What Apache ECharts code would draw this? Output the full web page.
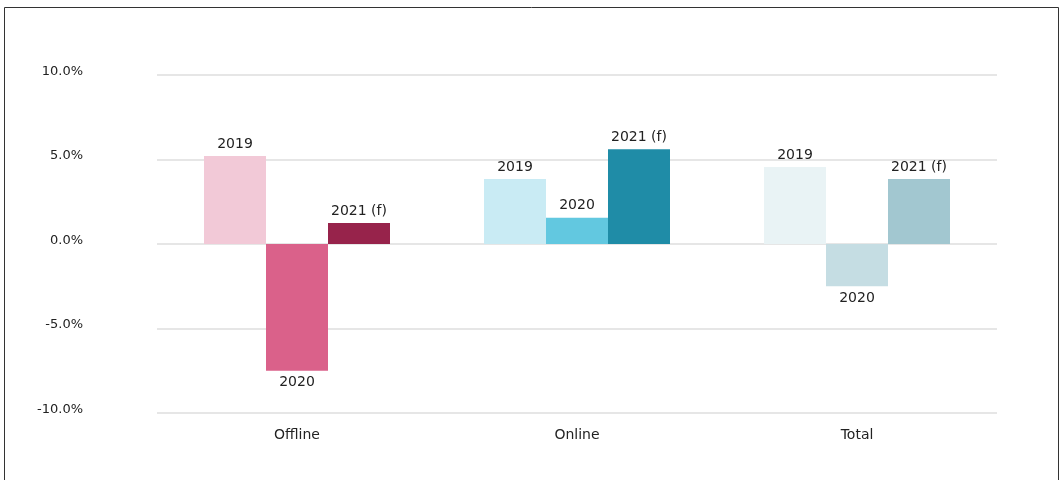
<!DOCTYPE html>
<html>
<head>
<meta charset="utf-8">
<script src="https://cdn.jsdelivr.net/npm/echarts@6/dist/echarts.min.js"></script>
<style>
html,body{margin:0;padding:0;background:#fff;}
#chart{width:1063px;height:480px;}
</style>
</head>
<body>
<div id="chart"></div>
<script>
const categories = ['Offline', 'Online', 'Total'];
const seriesNames = ['2019', '2020', '2021 (f)'];
const values2019 = [5.2, 3.85, 4.55];
const values2020 = [-7.5, 1.55, -2.5];
const values2021 = [1.25, 5.6, 3.85];
const colors2019 = ['#F2C9D7', '#C9EBF4', '#E9F3F5'];
const colors2020 = ['#DA618A', '#62C8E0', '#C5DDE3'];
const colors2021 = ['#97234B', '#1F8CA7', '#A2C7D0'];
const yTicks = [-10, -5, 0, 5, 10];

const FONT = 'DejaVu Sans, Arial, sans-serif';
const chart = echarts.init(document.getElementById('chart'), null, {renderer: 'canvas'});

function makeSeries(name, values, colors) {
  return {
    name: name,
    type: 'bar',
    barWidth: 62,
    barGap: '0%',
    data: values.map((v, i) => ({
      value: v,
      itemStyle: {color: colors[i]},
      label: {position: v < 0 ? 'bottom' : 'top'}
    })),
    label: {
      show: true,
      formatter: '{a}',
      distance: 5,
      color: '#222',
      fontSize: 14,
      fontFamily: FONT
    }
  };
}

chart.setOption({
  animation: false,
  backgroundColor: '#fff',
  graphic: [{
    type: 'rect',
    shape: {x: 4.5, y: 7.5, width: 1054, height: 600},
    style: {fill: 'none', stroke: '#333', lineWidth: 1},
    silent: true,
    z: 100
  }],
  grid: {left: 157, right: 66, top: 75, bottom: 67},
  xAxis: {
    type: 'category',
    data: categories,
    axisLine: {show: false},
    axisTick: {show: false},
    axisLabel: {
      color: '#222',
      fontSize: 14,
      margin: 15,
      fontFamily: FONT
    }
  },
  yAxis: {
    type: 'value',
    min: yTicks[0],
    max: yTicks[yTicks.length - 1],
    interval: 5,
    axisLine: {show: false},
    axisTick: {show: false},
    splitLine: {lineStyle: {color: '#e6e6e6', width: 2}},
    axisLabel: {
      color: '#222',
      fontSize: 13,
      margin: 74,
      fontFamily: FONT,
      formatter: v => '{v|' + v.toFixed(1) + '%}',
      rich: {
        v: {fontSize: 13, fontFamily: FONT, color: '#222', padding: [0, 0, 7, 0]}
      }
    }
  },
  series: [
    makeSeries(seriesNames[0], values2019, colors2019),
    makeSeries(seriesNames[1], values2020, colors2020),
    makeSeries(seriesNames[2], values2021, colors2021)
  ]
});
</script>
</body>
</html>
